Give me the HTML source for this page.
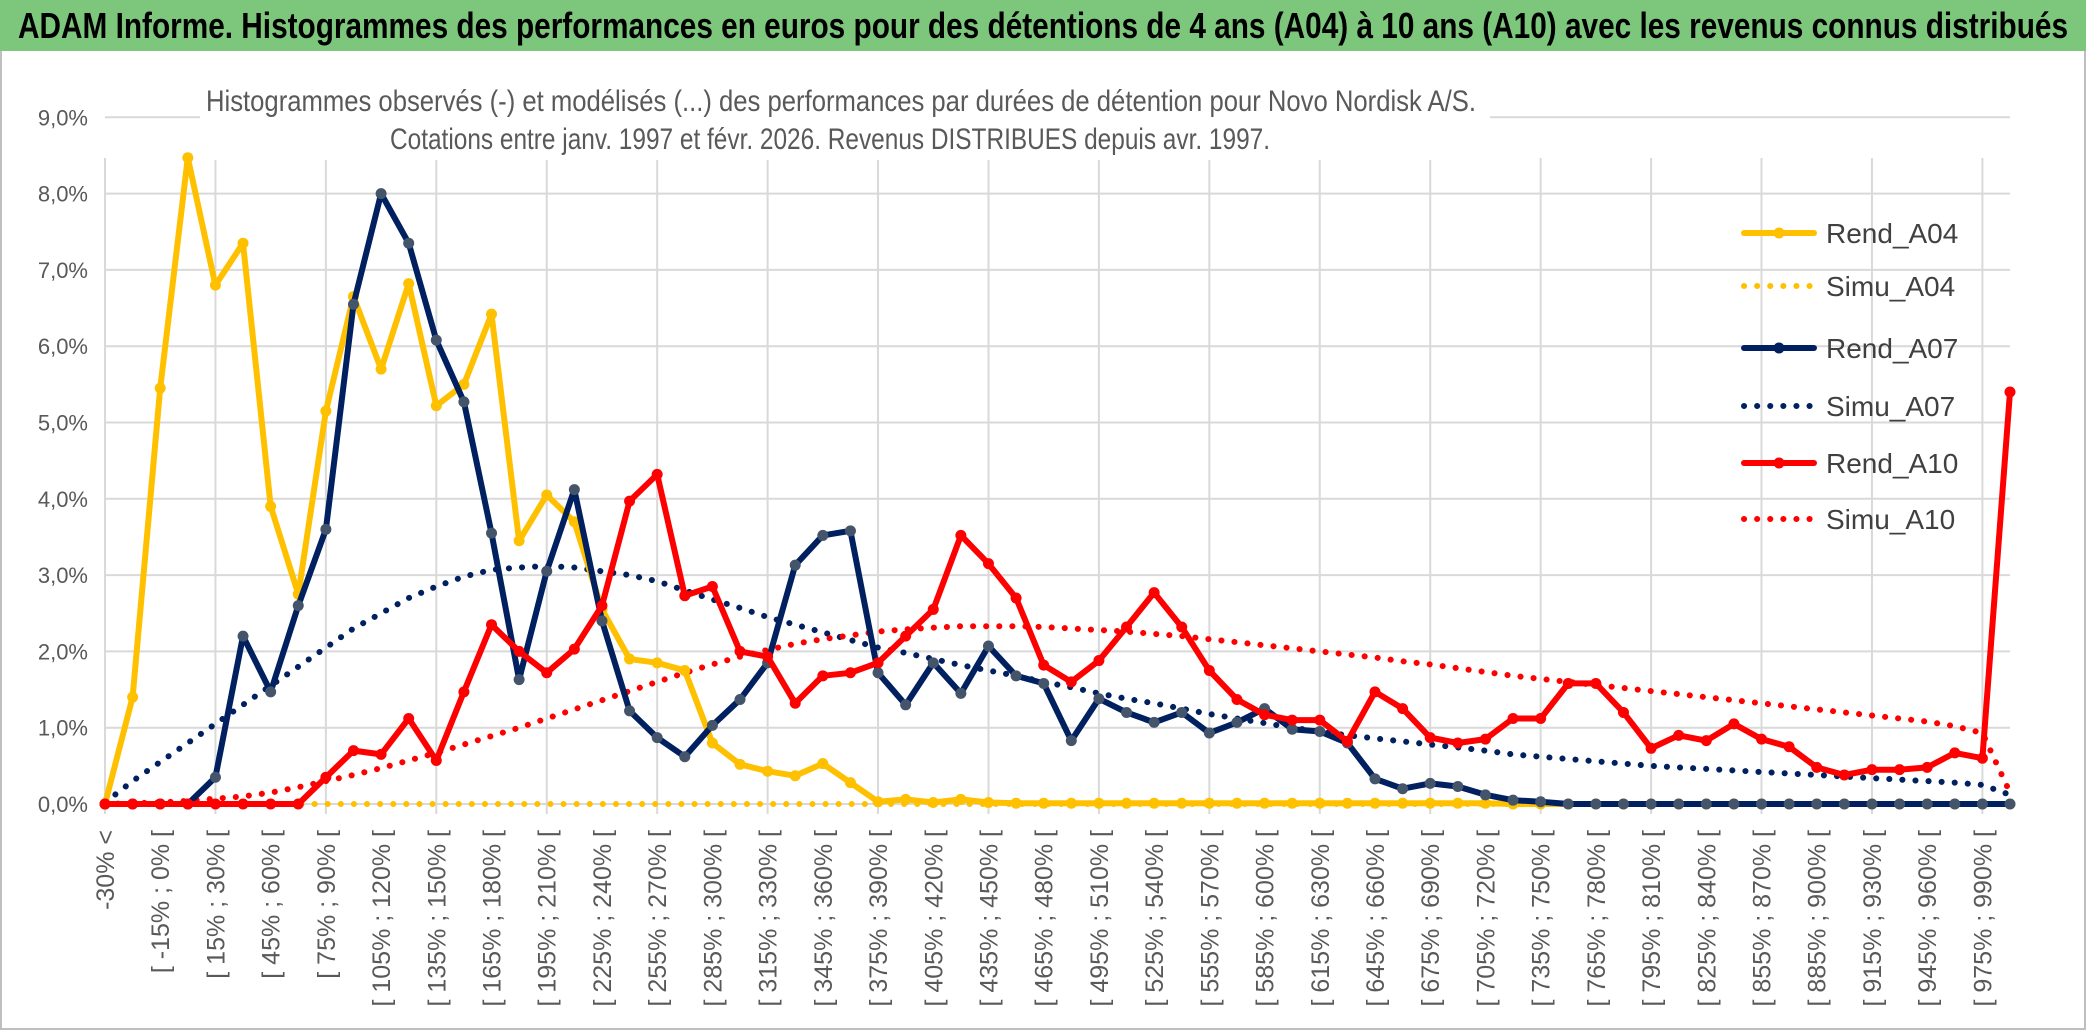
<!DOCTYPE html>
<html><head><meta charset="utf-8"><style>
html,body{margin:0;padding:0;background:#fff;}
svg{display:block;font-family:"Liberation Sans",sans-serif;}
</style></head><body>
<svg id="c" width="2086" height="1031" viewBox="0 0 2086 1031" xmlns="http://www.w3.org/2000/svg">
<rect x="0" y="0" width="2086" height="1031" fill="#fff"/>
<rect x="1" y="1" width="2084" height="1028" fill="none" stroke="#bfbfbf" stroke-width="2"/>
<rect x="0" y="0" width="2086" height="51" fill="#7dc77c"/>
<text x="18" y="38" font-size="36" font-weight="bold" fill="#000" textLength="2050" lengthAdjust="spacingAndGlyphs">ADAM Informe. Histogrammes des performances en euros pour des détentions de 4 ans (A04) à 10 ans (A10) avec les revenus connus distribués</text>
<g id="grid"></g>
<g id="yaxis"></g>
<g id="xaxis"></g>
<rect x="200" y="70" width="1290" height="90" fill="#fff"/>
<text x="206" y="111" font-size="30" fill="#595959" textLength="1270" lengthAdjust="spacingAndGlyphs">Histogrammes observés (-) et modélisés (...) des performances par durées de détention pour Novo Nordisk A/S.</text>
<text x="390" y="149" font-size="30" fill="#595959" textLength="880" lengthAdjust="spacingAndGlyphs">Cotations entre janv. 1997 et févr. 2026. Revenus DISTRIBUES depuis avr. 1997.</text>
<g id="series"></g>
<g id="legend"></g>
</svg>
<script>
const catLabels = (function(){ const a=["-30% <","[ -30% ; -15% ["]; for(let v=-15; v<=975; v+=15) a.push("[ "+v+"% ; "+(v+15)+"% ["); a.push("990% >"); return a; })();
const yTicks = [0,1,2,3,4,5,6,7,8,9];
const rendA04 = [0,1.4,5.45,8.47,6.8,7.35,3.9,2.75,5.15,6.65,5.7,6.82,5.22,5.5,6.42,3.45,4.05,3.7,2.55,1.9,1.85,1.75,0.8,0.52,0.43,0.37,0.53,0.28,0.03,0.06,0.02,0.06,0.02,0.01,0.01,0.01,0.01,0.01,0.01,0.01,0.01,0.01,0.01,0.01,0.01,0.01,0.01,0.01,0.01,0.01,0.01,0,0,0,0,0,0,0,0,0,0,0,0,0,0,0,0,0,0,0];
const simuA04 = new Array(70).fill(0);
const rendA07 = [0,0,0,0,0.35,2.2,1.47,2.6,3.6,6.55,8.0,7.35,6.08,5.27,3.55,1.63,3.05,4.12,2.4,1.22,0.87,0.62,1.03,1.37,1.85,3.13,3.52,3.58,1.72,1.3,1.85,1.45,2.07,1.68,1.58,0.83,1.38,1.2,1.07,1.2,0.93,1.07,1.25,0.98,0.95,0.8,0.33,0.2,0.27,0.23,0.12,0.05,0.03,0,0,0,0,0,0,0,0,0,0,0,0,0,0,0,0,0];
const simuA07 = [0.02,0.3,0.55,0.8,1.05,1.3,1.55,1.8,2.05,2.3,2.5,2.7,2.85,2.98,3.07,3.1,3.12,3.1,3.05,3.0,2.92,2.8,2.68,2.57,2.45,2.35,2.25,2.15,2.05,1.98,1.9,1.82,1.75,1.68,1.6,1.53,1.45,1.38,1.32,1.25,1.18,1.12,1.06,1.0,0.95,0.9,0.86,0.82,0.78,0.74,0.7,0.65,0.62,0.59,0.56,0.53,0.5,0.48,0.46,0.44,0.42,0.4,0.38,0.36,0.34,0.32,0.3,0.28,0.25,0.12];
const rendA10 = [0,0,0,0,0,0,0,0,0.35,0.7,0.65,1.12,0.57,1.47,2.35,2.0,1.72,2.03,2.6,3.97,4.32,2.73,2.85,2.0,1.93,1.32,1.68,1.72,1.85,2.2,2.55,3.52,3.15,2.7,1.82,1.6,1.88,2.32,2.77,2.32,1.75,1.37,1.17,1.1,1.1,0.82,1.47,1.25,0.87,0.8,0.85,1.12,1.12,1.58,1.58,1.2,0.73,0.9,0.83,1.05,0.85,0.75,0.48,0.38,0.45,0.45,0.48,0.67,0.6,5.4];
const simuA10 = [0,0.01,0.02,0.04,0.07,0.1,0.15,0.22,0.3,0.38,0.47,0.57,0.67,0.78,0.89,1.0,1.12,1.24,1.36,1.48,1.6,1.72,1.83,1.93,2.02,2.1,2.16,2.21,2.26,2.29,2.31,2.33,2.33,2.33,2.32,2.3,2.28,2.26,2.23,2.2,2.16,2.12,2.08,2.04,2.0,1.96,1.92,1.87,1.83,1.78,1.73,1.68,1.64,1.6,1.56,1.52,1.48,1.44,1.4,1.36,1.32,1.28,1.24,1.2,1.16,1.12,1.08,1.02,0.93,0.15];

const NS="http://www.w3.org/2000/svg";
const X0=105, X1=2010, Y0=804, YPER=76.3;
const n=catLabels.length;
function xs(i){return X0+i*(X1-X0)/(n-1);}
function ys(v){return Y0-v*YPER;}
function mk(tag,attrs,parent){const e=document.createElementNS(NS,tag);for(const k in attrs)e.setAttribute(k,attrs[k]);parent.appendChild(e);return e;}
const grid=document.getElementById('grid'), yaxis=document.getElementById('yaxis'), xaxis=document.getElementById('xaxis');
yTicks.forEach(t=>{
  const l=mk('line',{x1:X0,x2:X1,y1:ys(t),y2:ys(t),stroke:'#d9d9d9','stroke-width':2},grid);
  
  
  const tx=mk('text',{x:88,y:ys(t)+8,'font-size':22,fill:'#595959','text-anchor':'end'},yaxis);
  tx.textContent=t.toFixed(1).replace('.',',')+'%';
  
  
});
for(let i=0;i<n;i+=4){
  const l=mk('line',{x1:xs(i),x2:xs(i),y1:158,y2:Y0+10,stroke:'#d9d9d9','stroke-width':2},grid);
  
  
}
for(let i=0;i<n;i+=2){
  const x=xs(i)+9, y=830;
  const tx=mk('text',{x:x,y:y,'font-size':25,fill:'#595959','text-anchor':'end',transform:'rotate(-90 '+x+' '+y+')'},xaxis);
  tx.textContent=catLabels[i];
  
  
}
const series=document.getElementById('series');
function pts(arr){return arr.map((v,i)=>xs(i).toFixed(1)+','+ys(v).toFixed(1)).join(' ');}
function dotted(arr,color,name){
  const p=mk('polyline',{points:pts(arr),fill:'none',stroke:color,'stroke-width':6,'stroke-linecap':'round','stroke-dasharray':'0.1 13'},series);
  
  
}
function solid(arr,color,mcol,name){
  const g=mk('g',{},series);
  
  
  mk('polyline',{points:pts(arr),fill:'none',stroke:color,'stroke-width':6,'stroke-linejoin':'round'},g);
  arr.forEach((v,i)=>{
    const c=mk('circle',{cx:xs(i),cy:ys(v),r:5.5,fill:mcol},g);
    
    
  });
}
dotted(simuA04,'#ffc000','simu-a04-line');
dotted(simuA07,'#002060','simu-a07-line');
dotted(simuA10,'#ff0000','simu-a10-line');
solid(rendA04,'#ffc000','#ffc000','rend-a04-line');
solid(rendA07,'#002060','#44546a','rend-a07-line');
solid(rendA10,'#ff0000','#ff0000','rend-a10-line');
const legend=document.getElementById('legend');
const legItems=[['Rend_A04','#ffc000',false,233],['Simu_A04','#ffc000',true,286],['Rend_A07','#002060',false,348],['Simu_A07','#002060',true,406],['Rend_A10','#ff0000',false,463],['Simu_A10','#ff0000',true,519]];
legItems.forEach(it=>{
  const g=mk('g',{},legend);
  
  
  const a={x1:1744,x2:1814,y1:it[3],y2:it[3],stroke:it[1],'stroke-width':6,'stroke-linecap':'round'};
  if(it[2]) a['stroke-dasharray']='0.1 13';
  mk('line',a,g);
  if(!it[2]) mk('circle',{cx:1779,cy:it[3],r:5.5,fill:it[1]},g);
  const t=mk('text',{x:1826,y:it[3]+10,'font-size':28,fill:'#404040'},g);
  t.textContent=it[0];
});
</script>
</body></html>
